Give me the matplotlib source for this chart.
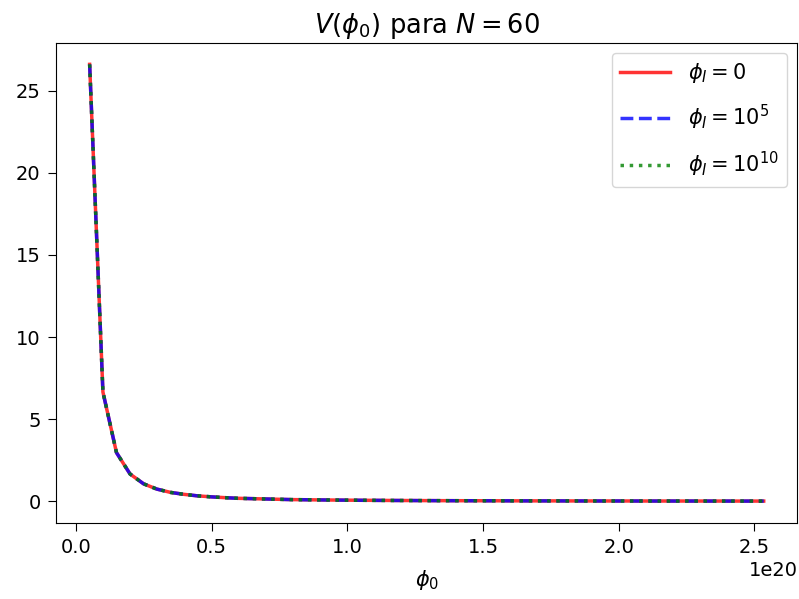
import matplotlib
matplotlib.use("Agg")
import matplotlib.pyplot as plt

# phi_0 grid (units of 1e20 applied below) and V(phi_0) for each phi_I
phi0 = [0.050, 0.099, 0.149, 0.199, 0.249, 0.298, 0.348, 0.398, 0.447, 0.497,
        0.547, 0.596, 0.646, 0.696, 0.746, 0.795, 0.845, 0.895, 0.944, 0.994,
        1.044, 1.093, 1.143, 1.193, 1.243, 1.292, 1.342, 1.392, 1.441, 1.491,
        1.541, 1.590, 1.640, 1.690, 1.740, 1.789, 1.839, 1.889, 1.938, 1.988,
        2.038, 2.087, 2.137, 2.187, 2.237, 2.286, 2.336, 2.386, 2.435, 2.485,
        2.535]
phi0 = [p * 1e20 for p in phi0]

V_phiI_0 = [26.6, 6.65, 2.96, 1.66, 1.06, 0.74, 0.54, 0.42, 0.33, 0.27,
            0.22, 0.18, 0.16, 0.14, 0.12, 0.10, 0.092, 0.082, 0.074, 0.067,
            0.060, 0.055, 0.050, 0.046, 0.043, 0.039, 0.036, 0.034, 0.032, 0.030,
            0.028, 0.026, 0.024, 0.023, 0.022, 0.021, 0.019, 0.018, 0.017, 0.017,
            0.016, 0.015, 0.014, 0.014, 0.013, 0.013, 0.012, 0.012, 0.011, 0.011,
            0.010]
V_phiI_1e5 = list(V_phiI_0)
V_phiI_1e10 = list(V_phiI_0)

plt.rcParams['font.size'] = 14
plt.rcParams['mathtext.fontset'] = 'dejavusans'

fig = plt.figure(figsize=(7.99, 5.99), dpi=100)
ax = fig.add_axes([0.070, 0.127, 0.928, 0.802])

ax.plot(phi0, V_phiI_0, 'r-', alpha=0.8, lw=2.5, label=r'$\phi_I = 0$')
ax.plot(phi0, V_phiI_1e5, 'b--', alpha=0.8, lw=2.5, label=r'$\phi_I = 10^5$')
ax.plot(phi0, V_phiI_1e10, 'g:', alpha=0.8, lw=2.5, label=r'$\phi_I = 10^{10}$')

ax.set_yticks([0, 5, 10, 15, 20, 25])
ax.tick_params(length=6, pad=5)
ax.set_xlabel(r'$\phi_0$', fontsize=15, labelpad=8)
ax.set_title(r'$V(\phi_0)$ para $N = 60$', fontsize=18.5, pad=7)
ax.legend(loc='upper right', fontsize=15, labelspacing=0.85,
          handlelength=2.4, handletextpad=0.85, borderaxespad=0.5)

fig.savefig('out.png', dpi=100)
